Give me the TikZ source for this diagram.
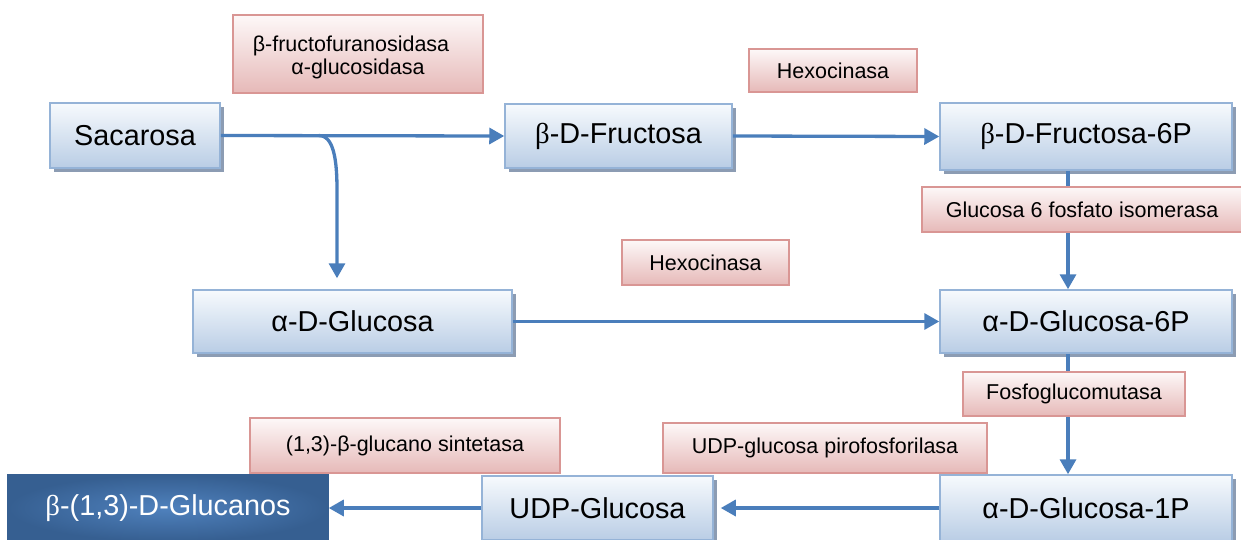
\documentclass[tikz,border=0pt]{standalone}
\usepackage{fontspec}
\setmainfont{Liberation Sans}
\newfontfamily\grk{Liberation Serif}
\usepackage{xcolor}
\usepackage{tikz}
\usetikzlibrary{arrows.meta,shadows}

\definecolor{boxline}{HTML}{95B3D7}
\definecolor{boxtop}{HTML}{F7FAFD}
\definecolor{boxbot}{HTML}{B9CDE5}
\definecolor{boxshadow}{HTML}{8C9CB3}
\definecolor{enzline}{HTML}{D99694}
\definecolor{enztop}{HTML}{FDF8F8}
\definecolor{enzbot}{HTML}{E6B9B8}
\definecolor{flowblue}{HTML}{4A7EBB}
\definecolor{darkbox}{HTML}{365F91}
\definecolor{darkmid}{HTML}{4F81BD}

\begin{document}
\begin{tikzpicture}[x=1pt,y=-1pt,
  metab/.style={draw=boxline,line width=1.5pt,top color=boxtop,bottom color=boxbot,
    inner sep=0pt,font=\fontsize{28.8}{32}\selectfont,
    drop shadow={shadow xshift=4pt,shadow yshift=-4pt,fill=boxshadow,opacity=1}},
  product/.style={draw=darkbox,line width=1.5pt,inner color=darkmid,outer color=darkbox,
    inner sep=0pt,text=white,font=\fontsize{28.8}{32}\selectfont},
  enz/.style={draw=enzline,line width=1.5pt,top color=enztop,bottom color=enzbot,
    inner sep=0pt,font=\fontsize{21.5}{23}\selectfont},
  flow/.style={draw=flowblue,line width=3.3pt,-{Triangle[length=15pt,width=16pt]}}]
  \fill[white] (0,0) rectangle (1241,539);
  \useasboundingbox (0,0) rectangle (1241,539);
  \clip (0,0) rectangle (1241,539);
  % metabolites
  \node[metab,minimum width=170,minimum height=65] (sac) at (135,135.5) {Sacarosa};
  \node[metab,minimum width=227,minimum height=64] (fru) at (618.5,136) {{\grk β}-D-Fructosa};
  \node[metab,minimum width=292,minimum height=67] (f6p) at (1086,136.5) {{\grk β}-D-Fructosa-6P};
  \node[metab,minimum width=319,minimum height=63] (glc) at (352.5,321.5) {α-D-Glucosa};
  \node[metab,minimum width=292,minimum height=63] (g6p) at (1086,321.5) {α-D-Glucosa-6P};
  \node[metab,minimum width=292,minimum height=66] (g1p) at (1086,508) {α-D-Glucosa-1P};
  \node[metab,minimum width=231,minimum height=64] (udp) at (597.5,508) {UDP-Glucosa};
  \node[product,minimum width=320,minimum height=66] (glucanos) at (168,508) {{\grk β}-(1,3)-D-Glucanos};
  % arrows
  \coordinate (split) at ([xshift=98pt]sac.east);
  \draw[flow] (sac.east) -- (fru.west);
  \draw[flow] (split) .. controls +(15,0) and +(0,-30) .. (337,190)
    -- ([xshift=-15.5pt,yshift=11pt]glc.north);
  \draw[flow] (fru.east) -- (f6p.west);
  \draw[flow] ([xshift=-18pt]f6p.south) -- ([xshift=-18pt]g6p.north);
  \draw[flow] (glc.east) -- (g6p.west);
  \draw[flow] ([xshift=-18pt]g6p.south) -- ([xshift=-18pt]g1p.north);
  \draw[flow] (g1p.west) -- ([xshift=7pt]udp.east);
  \draw[flow] (udp.west) -- (glucanos.east);
  % enzymes
  \node[enz,align=center,minimum width=250,minimum height=78,text height=46pt] (invert) at (358,54)
    {β-fructofuranosidasa\hspace*{14pt}\\α-glucosidasa};
  \node[enz,minimum width=168,minimum height=43] (hexo1) at (833,70.5) {Hexocinasa};
  \node[enz,minimum width=320,minimum height=45] (isom) at (1082,209.5) {Glucosa 6 fosfato isomerasa};
  \node[enz,minimum width=167,minimum height=45] (hexo2) at (705.5,262.5) {Hexocinasa};
  \node[enz,minimum width=222,minimum height=44] (mutasa) at (1074,394) {Fosfoglucomutasa};
  \node[enz,minimum width=324,minimum height=50] (pirofos) at (825,448) {UDP-glucosa pirofosforilasa};
  \node[enz,minimum width=310,minimum height=55] (sintasa) at (405,445.5) {(1,3)-β-glucano sintetasa};
\end{tikzpicture}
\end{document}
